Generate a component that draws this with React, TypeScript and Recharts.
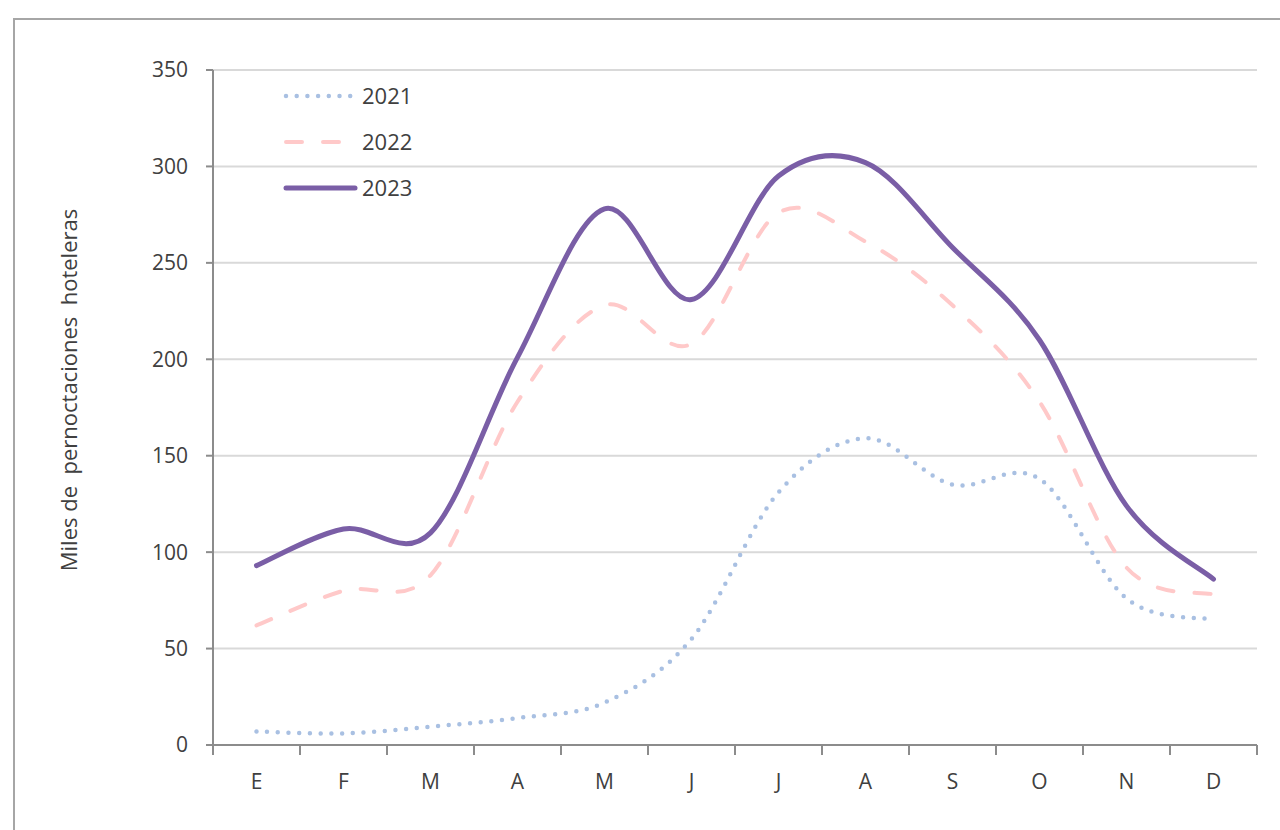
import { LineChart, Line, XAxis, YAxis, CartesianGrid, Legend } from "recharts";

const MONTHS = ["E", "F", "M", "A", "M", "J", "J", "A", "S", "O", "N", "D"];
const Y_TICKS = [0, 50, 100, 150, 200, 250, 300, 350];
const DATA_2021 = [7, 6, 9.5, 14, 22, 55, 131, 159, 135, 138, 76, 65];
const DATA_2022 = [62, 80, 88, 178, 228, 208, 276, 261, 228, 178, 92, 78];
const DATA_2023 = [93, 112, 110, 201, 278, 231, 295, 302, 258, 210, 124, 86];

const SERIES = [
  { key: "y2021", name: "2021", color: "#a9c0e2", width: 4.5, dash: "0 10.7" },
  { key: "y2022", name: "2022", color: "#ffc9c9", width: 4, dash: "16 21" },
  { key: "y2023", name: "2023", color: "#7a5ea6", width: 5, dash: undefined as string | undefined },
];

const rows = MONTHS.map((m, i) => ({
  pos: i + 0.5,
  month: m,
  y2021: DATA_2021[i],
  y2022: DATA_2022[i],
  y2023: DATA_2023[i],
}));

const FONT = "'Open Sans', 'Liberation Sans', sans-serif";
const TEXT = "#404040";
const AXIS = "#8c8c8c";

// smoothed line like a spreadsheet (catmull-rom through the points)
function smoothCurve(context: any) {
  let pts: number[][] = [];
  return {
    areaStart() {},
    areaEnd() {},
    lineStart() {
      pts = [];
    },
    point(x: number, y: number) {
      pts.push([+x, +y]);
    },
    lineEnd() {
      const n = pts.length;
      if (!n) return;
      context.moveTo(pts[0][0], pts[0][1]);
      for (let i = 0; i < n - 1; i++) {
        const p0 = pts[Math.max(0, i - 1)];
        const p1 = pts[i];
        const p2 = pts[i + 1];
        const p3 = pts[Math.min(n - 1, i + 2)];
        context.bezierCurveTo(
          p1[0] + (p2[0] - p0[0]) / 6,
          p1[1] + (p2[1] - p0[1]) / 6,
          p2[0] - (p3[0] - p1[0]) / 6,
          p2[1] - (p3[1] - p1[1]) / 6,
          p2[0],
          p2[1]
        );
      }
    },
  };
}

const BAND = (1257 - 213) / 12;

function MonthTick({ x, y, payload }: any) {
  const idx = payload.value;
  if (idx >= MONTHS.length) return null;
  return (
    <text x={x + BAND / 2} y={y + 32} textAnchor="middle" fill={TEXT} fontSize={21} fontFamily={FONT}>
      {MONTHS[idx]}
    </text>
  );
}

function LegendBox() {
  return (
    <svg width={170} height={130}>
      {SERIES.map((s, i) => {
        const cy = 16 + i * 46;
        return (
          <g key={s.key}>
            <line
              x1={6}
              x2={75}
              y1={cy}
              y2={cy}
              stroke={s.color}
              strokeWidth={s.width}
              strokeDasharray={s.dash}
              strokeLinecap="round"
            />
            <text x={82} y={cy + 8} fill={TEXT} fontSize={22} fontFamily={FONT}>
              {s.name}
            </text>
          </g>
        );
      })}
    </svg>
  );
}

export default function App() {
  return (
    <div style={{ position: "absolute", left: 0, top: 0, width: 1280, height: 830, background: "#fff" }}>
      <div
        style={{
          position: "absolute",
          left: 13,
          top: 18,
          right: 0,
          bottom: 0,
          borderTop: "2px solid #a6a6a6",
          borderLeft: "2px solid #a6a6a6",
        }}
      />
      <div style={{ position: "absolute", left: 0, top: 0 }}>
        <LineChart width={1280} height={830} data={rows} margin={{ top: 70, right: 23, bottom: 45, left: 153 }}>
          <CartesianGrid vertical={false} stroke="#d9d9d9" strokeWidth={2} />
          <XAxis
            dataKey="pos"
            type="number"
            domain={[0, 12]}
            ticks={[0, 1, 2, 3, 4, 5, 6, 7, 8, 9, 10, 11, 12]}
            interval={0}
            height={40}
            tickSize={10}
            stroke={AXIS}
            strokeWidth={2}
            tick={<MonthTick />}
          />
          <YAxis
            domain={[0, 350]}
            ticks={Y_TICKS}
            width={60}
            tickSize={7}
            tickMargin={18}
            stroke={AXIS}
            strokeWidth={2}
            tick={{ fill: TEXT, fontSize: 21, fontFamily: FONT }}
            label={{
              content: () => (
                <text
                  x={68}
                  y={390}
                  transform="rotate(-90 68 390)"
                  textAnchor="middle"
                  dominantBaseline="central"
                  fill={TEXT}
                  fontSize={22}
                  fontFamily={FONT}
                  style={{ whiteSpace: "pre" }}
                >
                  {"Miles de  pernoctaciones  hoteleras"}
                </text>
              ),
            }}
          />
          <Legend
            layout="vertical"
            align="center"
            verticalAlign="middle"
            wrapperStyle={{ left: 280, top: 80, width: 170 }}
            content={() => <LegendBox />}
          />
          {SERIES.map((s) => (
            <Line
              key={s.key}
              dataKey={s.key}
              name={s.name}
              type={smoothCurve as any}
              stroke={s.color}
              strokeWidth={s.width}
              strokeDasharray={s.dash}
              strokeLinecap="round"
              dot={false}
              activeDot={false}
              isAnimationActive={false}
            />
          ))}
        </LineChart>
      </div>
    </div>
  );
}
